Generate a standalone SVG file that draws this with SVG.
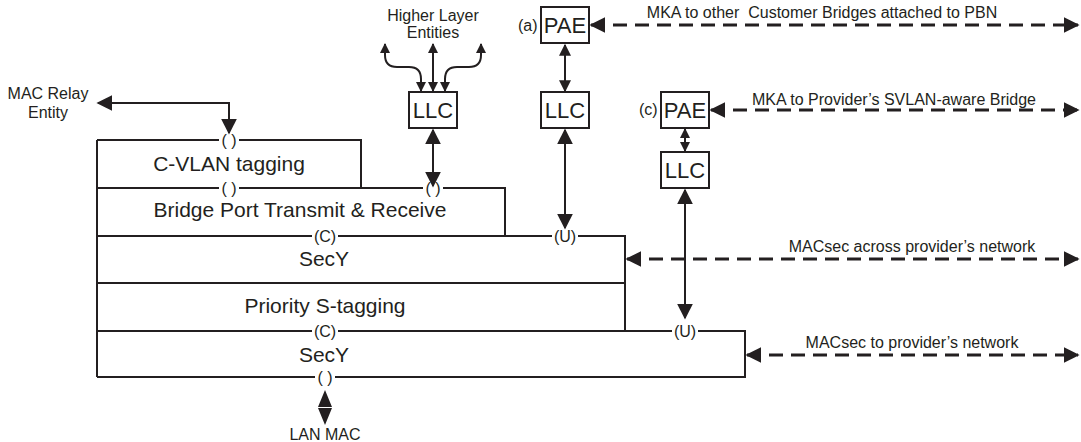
<svg xmlns="http://www.w3.org/2000/svg" width="1081" height="442" viewBox="0 0 1081 442">
<style>
text{font-family:"Liberation Sans",Arial,sans-serif;fill:#231f20}
.big{font-size:21px;text-anchor:middle}
.box{font-size:22px;text-anchor:middle}
.md{font-size:16px}
.mc{font-size:16px;text-anchor:middle}
.lb{font-size:16px;text-anchor:middle}
.ln{stroke:#231f20;stroke-width:2;fill:none}
.bx{stroke:#231f20;stroke-width:2;fill:#fff}
.ds{stroke:#231f20;stroke-width:3;fill:none;stroke-dasharray:14 8}
.wh{fill:#fff}
</style>
<defs>
<marker id="L" viewBox="0 0 10 10" refX="9" refY="5" markerWidth="16" markerHeight="16" markerUnits="userSpaceOnUse" orient="auto-start-reverse"><path d="M0,0L10,5L0,10z" fill="#231f20"/></marker>
<marker id="M" viewBox="0 0 10 10" refX="9" refY="5" markerWidth="12" markerHeight="12" markerUnits="userSpaceOnUse" orient="auto-start-reverse"><path d="M0,0L10,5L0,10z" fill="#231f20"/></marker>
<marker id="S" viewBox="0 0 10 10" refX="9" refY="5" markerWidth="10" markerHeight="10" markerUnits="userSpaceOnUse" orient="auto-start-reverse"><path d="M0,0L10,5L0,10z" fill="#231f20"/></marker>
</defs>

<g id="stack">
<path class="ln" d="M97,140V377M97,140H361V188M97,188H505V236M97,236H625V331M97,283H625M97,331H745V377H97"/>
</g>
<g id="cvlan"><text class="big" x="229" y="171">C-VLAN tagging</text></g>
<g id="bridgeport"><text class="big" x="300" y="217">Bridge Port Transmit &amp; Receive</text></g>
<g id="secy1"><text class="big" x="324" y="266">SecY</text></g>
<g id="priority"><text class="big" x="325" y="313">Priority S-tagging</text></g>
<g id="secy2"><text class="big" x="324" y="362">SecY</text></g>

<g id="sap-labels">
<rect class="wh" x="219" y="132" width="20" height="16"/><text class="lb" x="229" y="146">( )</text>
<rect class="wh" x="219" y="180" width="20" height="16"/><text class="lb" x="229" y="194">( )</text>
<rect class="wh" x="423" y="180" width="20" height="16"/><text class="lb" x="433" y="194">( )</text>
<rect class="wh" x="312" y="228" width="26" height="16"/><text class="lb" x="325" y="242">(C)</text>
<rect class="wh" x="552" y="228" width="26" height="16"/><text class="lb" x="565" y="242">(U)</text>
<rect class="wh" x="312" y="323" width="26" height="16"/><text class="lb" x="325" y="337">(C)</text>
<rect class="wh" x="672" y="323" width="26" height="16"/><text class="lb" x="685" y="337">(U)</text>
<rect class="wh" x="315" y="369" width="20" height="16"/><text class="lb" x="325" y="383">( )</text>
</g>

<g id="llc1"><rect class="bx" x="409" y="92" width="48" height="36"/><text class="box" x="433" y="118">LLC</text></g>
<g id="pae-a"><rect class="bx" x="541" y="7" width="48" height="36"/><text class="box" x="565" y="33">PAE</text><text class="md" x="518" y="31">(a)</text></g>
<g id="llc2"><rect class="bx" x="541" y="92" width="48" height="36"/><text class="box" x="565" y="118">LLC</text></g>
<g id="pae-c"><rect class="bx" x="661" y="92" width="48" height="36"/><text class="box" x="685" y="118">PAE</text><text class="md" x="639" y="115">(c)</text></g>
<g id="llc3"><rect class="bx" x="661" y="152" width="48" height="36"/><text class="box" x="685" y="178">LLC</text></g>

<g id="labels">
<text class="mc" x="48" y="99">MAC Relay</text>
<text class="mc" x="48" y="118">Entity</text>
<text class="mc" x="433" y="21">Higher Layer</text>
<text class="mc" x="433" y="38">Entities</text>
<text class="mc" x="822" y="18">MKA to other&#160; Customer Bridges attached to PBN</text>
<text class="mc" x="894" y="105">MKA to Provider’s SVLAN-aware Bridge</text>
<text class="mc" x="912" y="252">MACsec across provider’s network</text>
<text class="mc" x="912" y="348">MACsec to provider’s network</text>
<text class="mc" x="325" y="440">LAN MAC</text>
</g>

<g id="connectors">
<path class="ln" d="M229,133V103H98" marker-start="url(#L)" marker-end="url(#L)"/>
<path class="ln" d="M433,130V186" marker-start="url(#L)" marker-end="url(#L)"/>
<path class="ln" d="M433,44V91" marker-start="url(#S)" marker-end="url(#S)"/>
<path class="ln" d="M385,44V55Q385,67 397,67H409Q421,67 421,79V91" marker-start="url(#S)" marker-end="url(#S)"/>
<path class="ln" d="M481,44V55Q481,67 469,67H457Q445,67 445,79V91" marker-start="url(#S)" marker-end="url(#S)"/>
<path class="ln" d="M565,45V91" marker-start="url(#M)" marker-end="url(#M)"/>
<path class="ln" d="M565,130V228" marker-start="url(#L)" marker-end="url(#L)"/>
<path class="ln" d="M685,129V151" marker-start="url(#S)" marker-end="url(#S)"/>
<path class="ln" d="M685,190V318" marker-start="url(#L)" marker-end="url(#L)"/>
<path class="ds" d="M591,25H1078" marker-start="url(#L)" marker-end="url(#L)"/>
<path class="ds" d="M711,110H1078" marker-start="url(#L)" marker-end="url(#L)"/>
<path class="ds" d="M627,259H1078" marker-start="url(#L)" marker-end="url(#L)"/>
<path class="ds" d="M747,355H1078" marker-start="url(#L)" marker-end="url(#L)"/>
<path d="M325,390L332,407H318z M325,425L332,408H318z" fill="#231f20"/>
</g>
</svg>
